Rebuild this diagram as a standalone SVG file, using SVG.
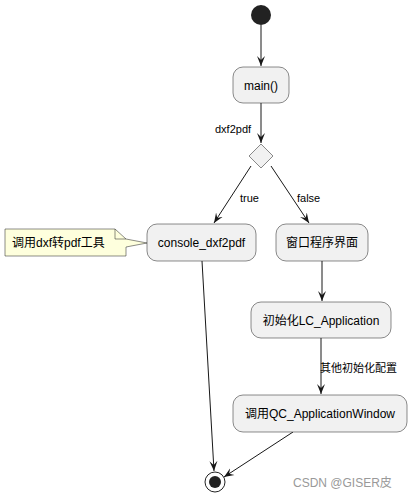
<svg xmlns="http://www.w3.org/2000/svg" width="412" height="498" viewBox="0 0 412 498">
<style>
.box{fill:#F1F1F1;stroke:#181818;stroke-width:0.5}
.ln{stroke:#181818;stroke-width:1;fill:none}
.t{font-family:"Liberation Sans","Noto Sans CJK SC",sans-serif;font-size:12px;fill:#000}
.l{font-family:"Liberation Sans","Noto Sans CJK SC",sans-serif;font-size:11px;fill:#000}
</style>
<defs>
<marker id="ah" viewBox="0 0 10 10" refX="10" refY="5" markerWidth="10" markerHeight="10" markerUnits="userSpaceOnUse" orient="auto">
<path d="M0,1 L10,5 L0,9 L4,5 Z" fill="#181818"/>
</marker>
</defs>
<rect width="412" height="498" fill="#fff"/>
<g id="connectors">
<line class="ln" x1="261" y1="25" x2="261" y2="66" marker-end="url(#ah)"/>
<line class="ln" x1="261" y1="103" x2="261" y2="143" marker-end="url(#ah)"/>
<line class="ln" x1="251" y1="166" x2="214" y2="223" marker-end="url(#ah)"/>
<line class="ln" x1="271" y1="166" x2="309" y2="223" marker-end="url(#ah)"/>
<line class="ln" x1="322" y1="261" x2="322" y2="301" marker-end="url(#ah)"/>
<line class="ln" x1="321" y1="338" x2="321" y2="394" marker-end="url(#ah)"/>
<line class="ln" x1="202" y1="261" x2="214" y2="471" marker-end="url(#ah)"/>
<line class="ln" x1="293" y1="432" x2="224" y2="477" marker-end="url(#ah)"/>
<text class="l" x="215" y="133">dxf2pdf</text>
<text class="l" x="240" y="202">true</text>
<text class="l" x="297" y="202">false</text>
<text class="l" x="320" y="372">其他初始化配置</text>
</g>
<g id="start"><circle cx="261" cy="15" r="10" fill="#222"/></g>
<g id="main"><rect class="box" x="233" y="67" width="56" height="36" rx="10"/><text class="t" x="261" y="89.5" text-anchor="middle">main()</text></g>
<g id="decision"><polygon class="box" points="261,144 273,156 261,168 249,156"/></g>
<g id="console"><rect class="box" x="147" y="224" width="109" height="37" rx="10"/><text class="t" x="201.5" y="247" text-anchor="middle">console_dxf2pdf</text></g>
<g id="note"><path d="M5,229 L115,229 L126,239 L147,243 L126,247 L126,256 L5,256 Z" fill="#FEFFDD" stroke="#181818" stroke-width="0.5"/><path d="M115,229 L115,239 L126,239" fill="none" stroke="#181818" stroke-width="0.5"/><text class="t" x="12" y="247">调用dxf转pdf工具</text></g>
<g id="window"><rect class="box" x="276" y="224" width="92" height="37" rx="10"/><text class="t" x="322" y="247" text-anchor="middle">窗口程序界面</text></g>
<g id="initlc"><rect class="box" x="251" y="302" width="140" height="36" rx="10"/><text class="t" x="321" y="324.5" text-anchor="middle">初始化LC_Application</text></g>
<g id="callqc"><rect class="box" x="233" y="395" width="174" height="37" rx="10"/><text class="t" x="320" y="418" text-anchor="middle">调用QC_ApplicationWindow</text></g>
<g id="end"><circle cx="215" cy="482" r="10" fill="#fff" stroke="#222" stroke-width="1"/><circle cx="215" cy="482" r="6" fill="#222"/></g>
<text x="293" y="487" font-family="Liberation Sans,'Noto Sans CJK SC',sans-serif" font-size="12" fill="#999">CSDN @GISER皮</text>
</svg>
